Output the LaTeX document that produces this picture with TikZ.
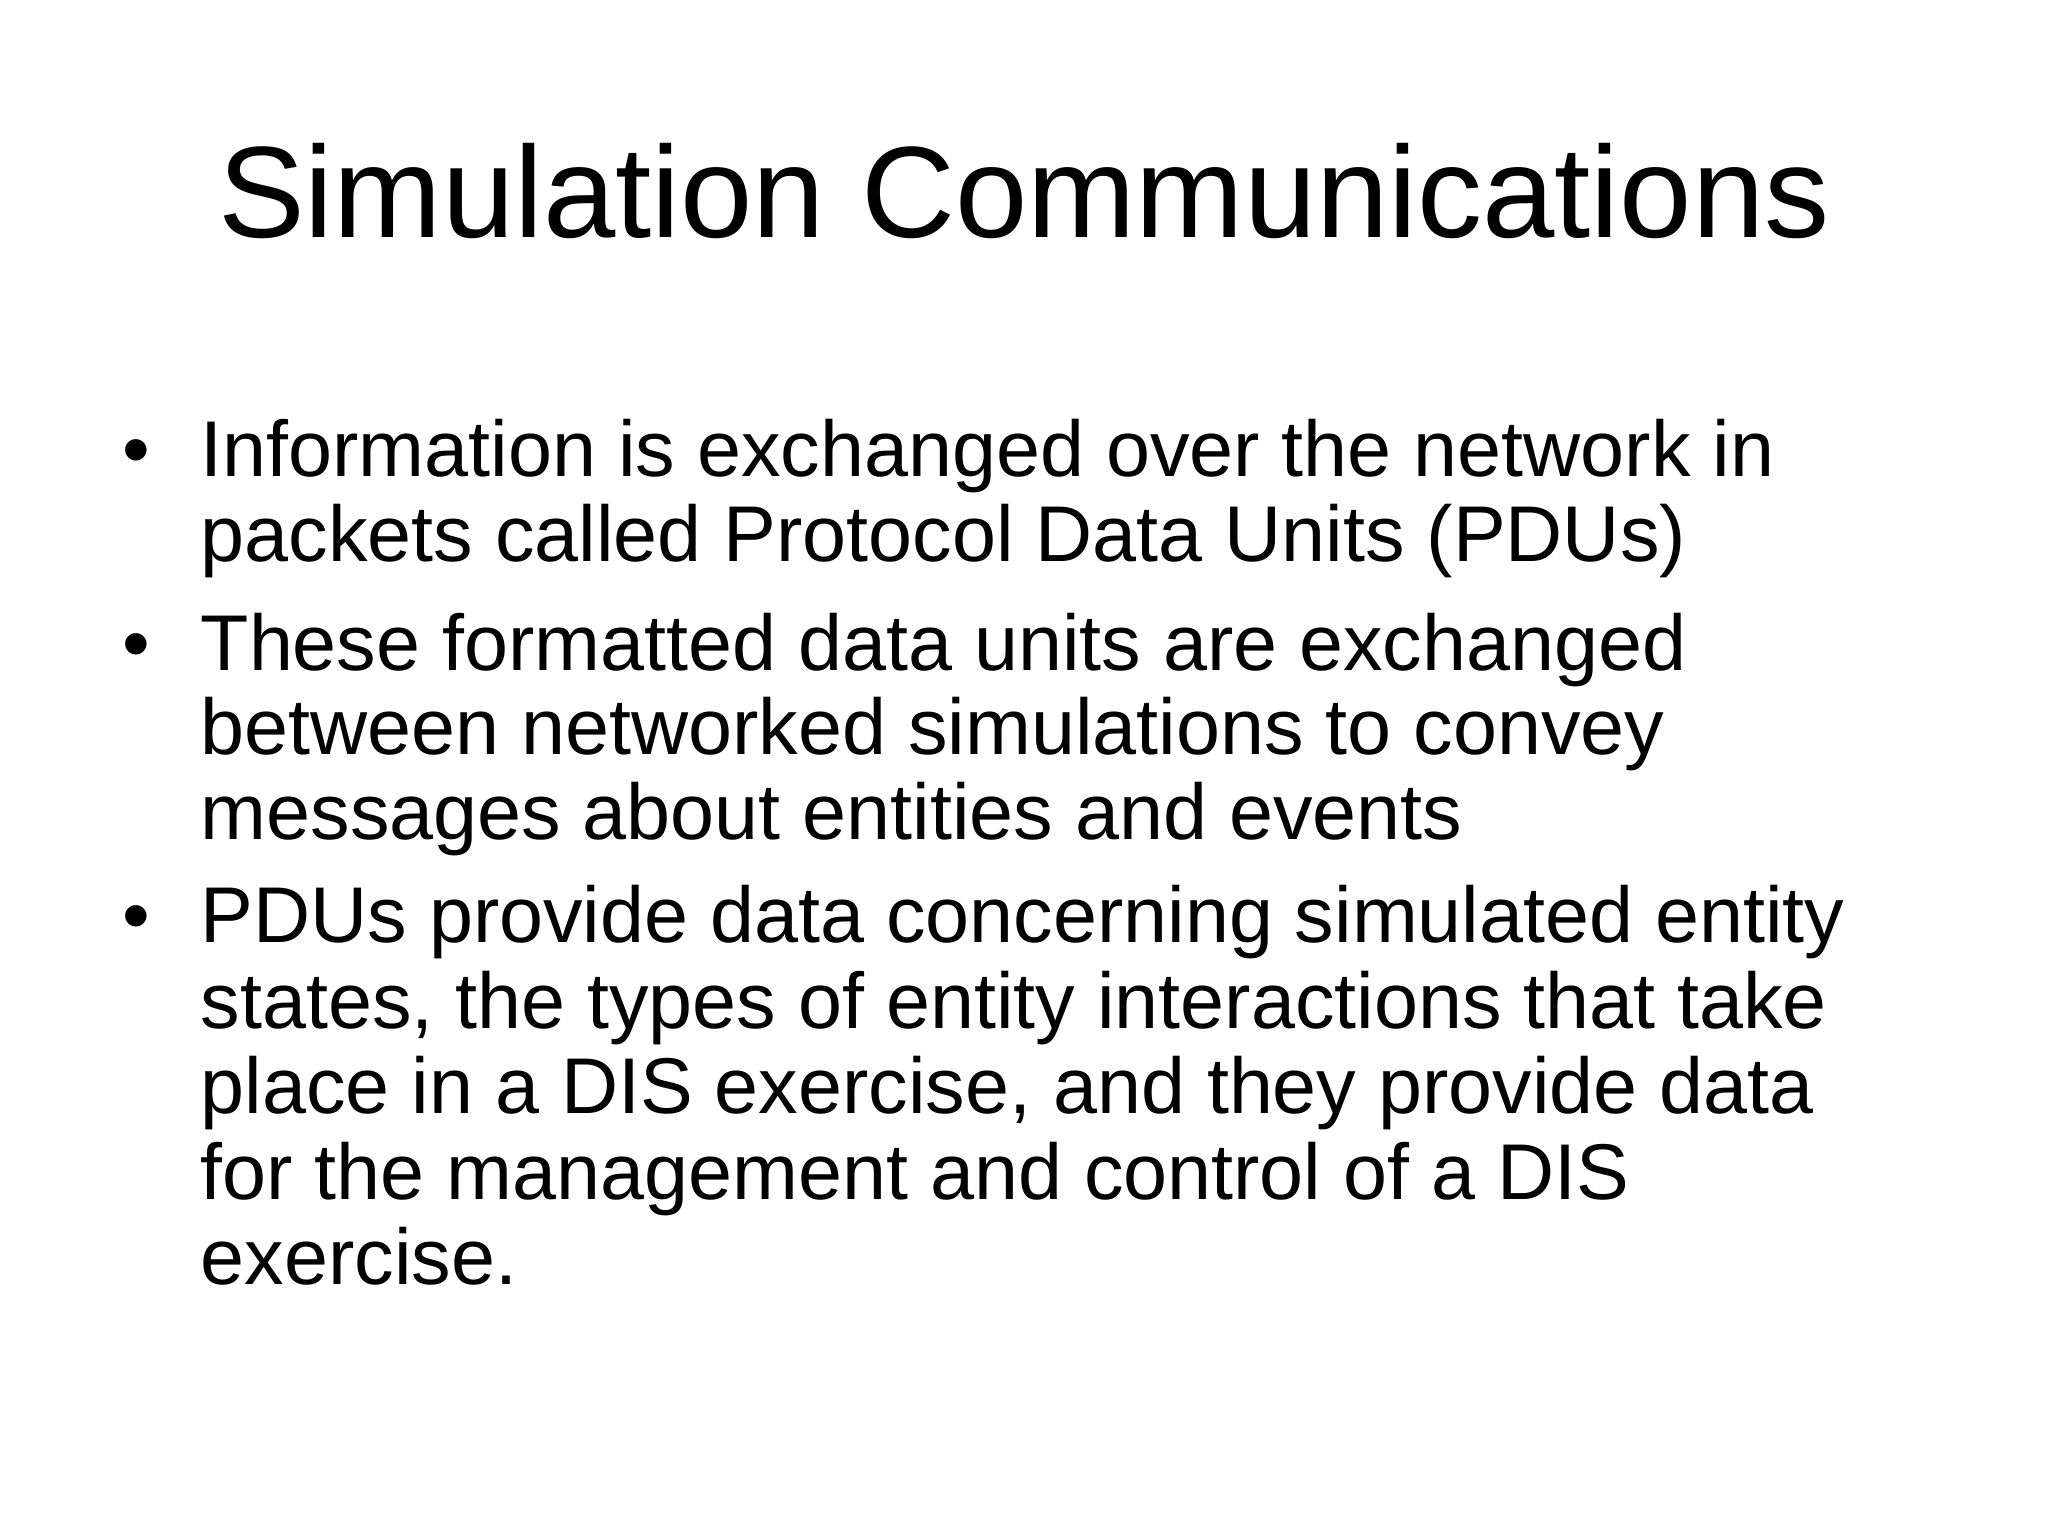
\documentclass[tikz,border=0pt]{standalone}
\usepackage{fontspec}
\setmainfont{Liberation Sans}
\begin{document}
\begin{tikzpicture}[x=1cm,y=1cm,
  ln/.style={anchor=base west,inner sep=0pt,font=\fontsize{22.5}{27}\selectfont},
  bul/.style={anchor=base,inner sep=0pt,font=\fontsize{22.5}{27}\selectfont}]
\useasboundingbox[fill=white] (0,0) rectangle (20.48,-15.36);
\node[anchor=base,inner sep=0pt,font=\fontsize{37}{44}\selectfont] (title) at (10.24,-2.38) {Simulation Communications};
\node[bul] (b1) at (1.36,-4.77) {•};
\node[ln] (l1) at (2.0,-4.77) {Information is exchanged over the network in};
\node[ln] (l2) at (2.0,-5.62) {packets called Protocol Data Units (PDUs)};
\node[bul] (b2) at (1.36,-6.70) {•};
\node[ln] (l3) at (2.0,-6.70) {These formatted data units are exchanged};
\node[ln] (l4) at (2.0,-7.55) {between networked simulations to convey};
\node[ln] (l5) at (2.0,-8.40) {messages about entities and events};
\node[bul] (b3) at (1.36,-9.43) {•};
\node[ln] (l6) at (2.0,-9.43) {PDUs provide data concerning simulated entity};
\node[ln] (l7) at (2.0,-10.29) {states, the types of entity interactions that take};
\node[ln] (l8) at (2.0,-11.14) {place in a DIS exercise, and they provide data};
\node[ln] (l9) at (2.0,-11.99) {for the management and control of a DIS};
\node[ln] (l10) at (2.0,-12.84) {exercise.};
\end{tikzpicture}
\end{document}
